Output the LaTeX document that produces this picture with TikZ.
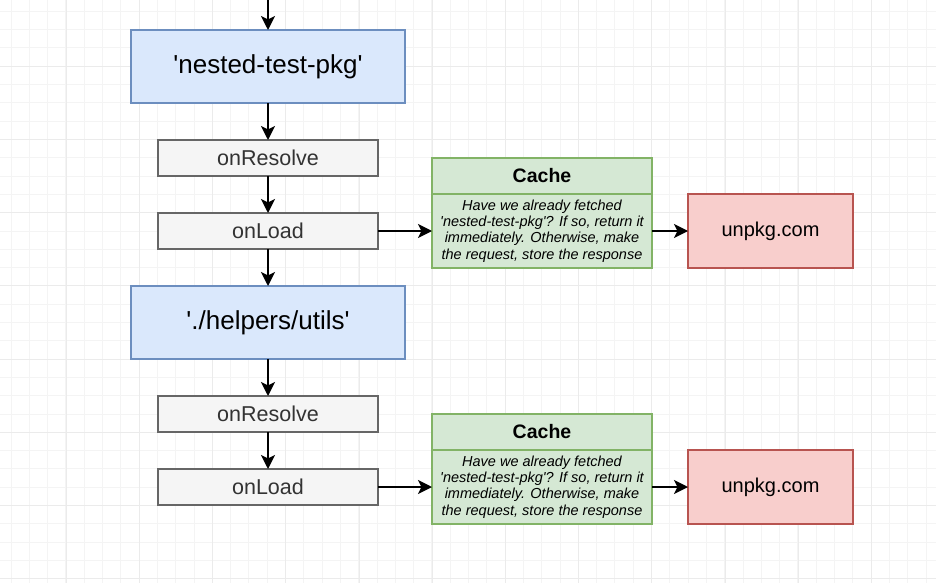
\documentclass[tikz,border=0pt]{standalone}
\usepackage{fontspec}
\setmainfont{Liberation Sans}
\usetikzlibrary{positioning,arrows.meta}
\definecolor{blueFill}{HTML}{DAE8FC}
\definecolor{blueLine}{HTML}{6C8EBF}
\definecolor{greyFill}{HTML}{F5F5F5}
\definecolor{greyLine}{HTML}{666666}
\definecolor{greyText}{HTML}{333333}
\definecolor{greenFill}{HTML}{D5E8D4}
\definecolor{greenLine}{HTML}{82B366}
\definecolor{redFill}{HTML}{F8CECC}
\definecolor{redLine}{HTML}{B85450}
\definecolor{gridMinor}{HTML}{F4F4F4}
\definecolor{gridMajor}{HTML}{EBEBEB}
\newcommand{\q}{\textquotesingle}
\begin{document}
\begin{tikzpicture}[x=1pt,y=-1pt]
        \tikzstyle{every node}=[inner sep=0pt, outer sep=0pt, line width=1.3pt]
        \tikzstyle{module}=[draw=blueLine, fill=blueFill, minimum width=274pt, minimum height=73pt, font=\fontsize{26}{30}\selectfont]
        \tikzstyle{hook}=[draw=greyLine, fill=greyFill, text=greyText, minimum width=220pt, minimum height=36pt, font=\fontsize{21.5}{26}\selectfont]
        \tikzstyle{cachehead}=[draw=greenLine, fill=greenFill, minimum width=220pt, minimum height=36pt, font=\fontsize{19.5}{24}\selectfont\bfseries]
        \tikzstyle{cachebody}=[draw=greenLine, fill=greenFill, minimum width=220pt, minimum height=74pt, align=center, font=\fontsize{14.5}{16.3}\selectfont\itshape]
        \tikzstyle{remote}=[draw=redLine, fill=redFill, minimum width=165pt, minimum height=74pt, font=\fontsize{20}{24}\selectfont]
        \tikzstyle{flow}=[line width=2pt, -{Stealth[length=14pt,width=14pt,inset=3.5pt]}]
        \useasboundingbox (0,0) rectangle (936,583);
        \fill[white] (0,0) rectangle (936,583);
        % grid
        \foreach \i in {0,...,50} {
          \draw[gridMinor, line width=0.6pt] ({10.8+18.3*\i},0) -- ({10.8+18.3*\i},583);
        }
        \foreach \i in {0,...,31} {
          \draw[gridMinor, line width=0.6pt] (0,{11.2+18.3*\i}) -- (936,{11.2+18.3*\i});
        }
        \foreach \i in {0,...,12} {
          \draw[gridMajor, line width=0.6pt] ({66.1+73.2*\i},0) -- ({66.1+73.2*\i},583);
        }
        \foreach \i in {0,...,7} {
          \draw[gridMajor, line width=0.6pt] (0,{66.1+73.2*\i}) -- (936,{66.1+73.2*\i});
        }
        % first module
        \coordinate (in) at (268,0);
        \node[module] (pkg) at (268,66.5) {\q nested-test-pkg\q};
        \node[hook, below=37pt of pkg] (res1) {onResolve};
        \node[hook, below=37pt of res1] (load1) {onLoad};
        \node[cachebody, right=54pt of load1] (body1) {Have we already fetched\\\q nested-test-pkg\q? If so, return it\\immediately. Otherwise, make\\the request, store the response};
        \node[cachehead, above=0pt of body1] (head1) {Cache};
        \node[remote, right=36pt of body1] (unpkg1) {unpkg.com};
        % second module
        \node[module, below=37pt of load1] (utils) {\q./helpers/utils\q};
        \node[hook, below=37pt of utils] (res2) {onResolve};
        \node[hook, below=37pt of res2] (load2) {onLoad};
        \node[cachebody, right=54pt of load2] (body2) {Have we already fetched\\\q nested-test-pkg\q? If so, return it\\immediately. Otherwise, make\\the request, store the response};
        \node[cachehead, above=0pt of body2] (head2) {Cache};
        \node[remote, right=36pt of body2] (unpkg2) {unpkg.com};
        % arrows
        \draw[flow] (in) -- (pkg);
        \draw[flow] (pkg) -- (res1);
        \draw[flow] (res1) -- (load1);
        \draw[flow] (load1) -- (utils);
        \draw[flow] (utils) -- (res2);
        \draw[flow] (res2) -- (load2);
        \draw[flow] (load1) -- (body1);
        \draw[flow] (body1) -- (unpkg1);
        \draw[flow] (load2) -- (body2);
        \draw[flow] (body2) -- (unpkg2);
\end{tikzpicture}
\end{document}
